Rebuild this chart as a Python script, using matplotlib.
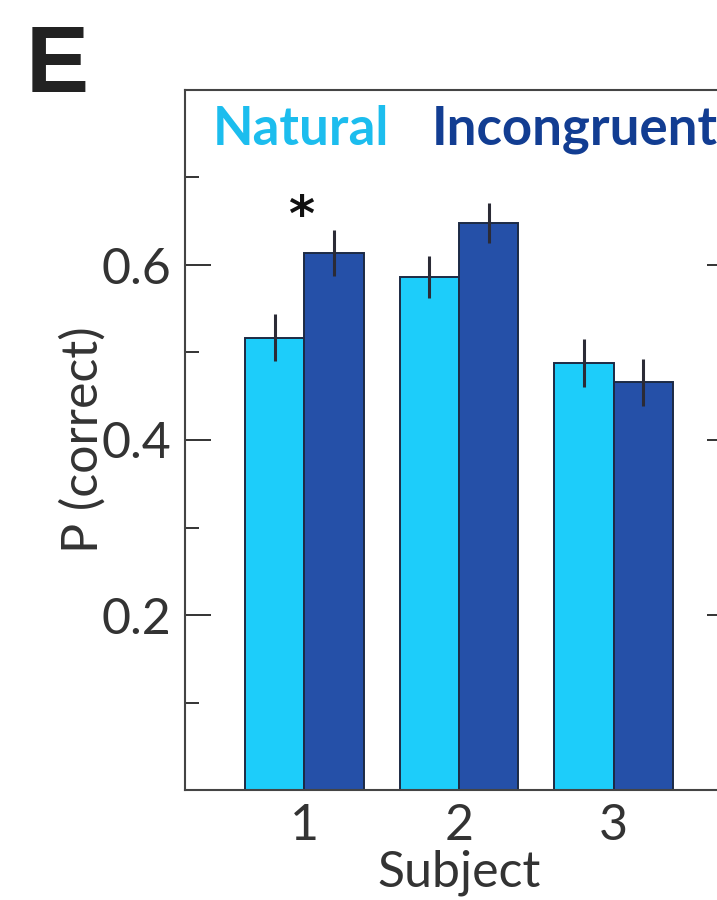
import matplotlib
matplotlib.use("Agg")
import matplotlib.pyplot as plt
import numpy as np
from matplotlib.ticker import MultipleLocator

# ---- data ----
subjects = [1, 2, 3]
subject_labels = ["1", "2", "3"]
natural = [0.517, 0.586, 0.488]
natural_err = [0.027, 0.024, 0.027]
incongruent = [0.614, 0.648, 0.466]
incongruent_err = [0.026, 0.023, 0.027]
series_names = ["Natural", "Incongruent"]
yticks = [0.2, 0.4, 0.6]
ytick_labels = ["0.2", "0.4", "0.6"]
sig_subjects = [1]

FONT = "Lato"
plt.rcParams["font.family"] = [FONT, "DejaVu Sans"]

W, H = 717, 900
fig = plt.figure(figsize=(W / 100, H / 100), dpi=100)
# axes in pixel coords: left 185, right 733, bottom 790, top 90
L, R, B, T = 185, 733, 790, 90
ax = fig.add_axes([L / W, (H - B) / H, (R - L) / W, (B - T) / H])

c_nat = "#1dcdfa"
c_inc = "#2550a8"
edge = "#1c2a44"
errc = "#2b2b36"
axc = "#444444"

x = np.array(subjects, dtype=float)
bw = 0.385
ax.bar(x - bw / 2, natural, width=bw, color=c_nat, edgecolor=edge, linewidth=1.4, zorder=2)
ax.bar(x + bw / 2, incongruent, width=bw, color=c_inc, edgecolor=edge, linewidth=1.4, zorder=2)
ax.errorbar(x - bw / 2, natural, yerr=natural_err, fmt="none", ecolor=errc, elinewidth=2.2, capsize=0, zorder=3)
ax.errorbar(x + bw / 2, incongruent, yerr=incongruent_err, fmt="none", ecolor=errc, elinewidth=2.2, capsize=0, zorder=3)

for s in sig_subjects:
    ax.text(s - 0.02, 0.655, "*", ha="center", va="center", fontsize=36, fontweight="bold",
            color="#111111", family="DejaVu Sans")

ax.set_xlim(0.227, 3.773)
ax.set_ylim(0, 0.8)
ax.set_xticks(subjects)
ax.set_xticklabels(subject_labels)
ax.set_yticks(yticks)
ax.set_yticklabels(ytick_labels)
ax.yaxis.set_minor_locator(MultipleLocator(0.1))

for sp in ax.spines.values():
    sp.set_color(axc)
    sp.set_linewidth(1.5)

ax.tick_params(axis="x", length=0, pad=9, labelsize=36, colors="#333333")
ax.tick_params(axis="y", which="major", direction="in", length=19, width=1.4, color="#333333",
               labelsize=36, labelcolor="#333333", pad=10, right=True)
ax.tick_params(axis="y", which="minor", direction="in", length=10, width=1.4, color="#333333", right=True)

ax.set_xlabel("Subject", fontsize=36, color="#333333", labelpad=1)
ax.set_ylabel("P (correct)", fontsize=36, color="#333333", labelpad=-4)

# legend-like texts
fig.text(213 / W, (H - 145) / H, series_names[0], fontsize=38, fontweight="bold", color="#1cbdee",
         ha="left", va="baseline")
fig.text(432 / W, (H - 145) / H, series_names[1], fontsize=38, fontweight="bold", color="#123d92",
         ha="left", va="baseline")

# panel label
fig.text(26 / W, (H - 92) / H, "E", fontsize=68, fontweight="bold", color="#222222",
         family="Liberation Sans", ha="left", va="baseline")

fig.savefig("out.png", dpi=100)
